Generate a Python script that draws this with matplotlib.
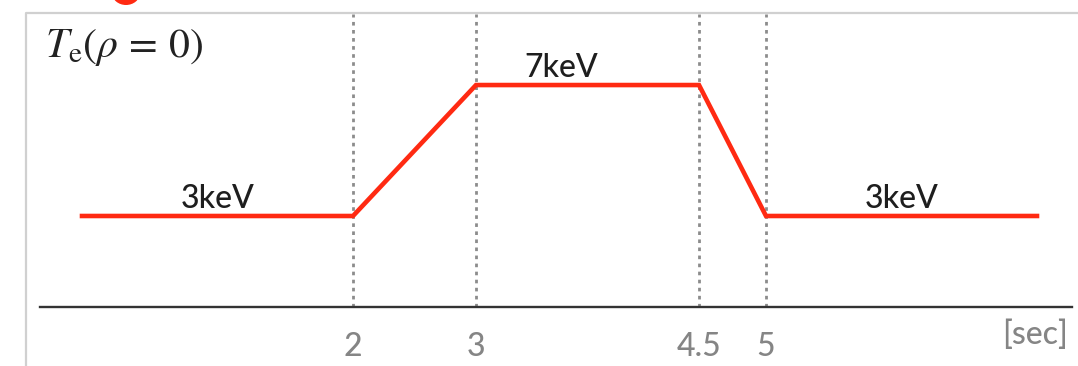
import matplotlib.pyplot as plt
import numpy as np
from matplotlib.lines import Line2D
from matplotlib.patches import Ellipse

# electron temperature waveform at the plasma core
times = [0, 2, 3, 4.5, 5, 7]
te_kev = [3, 3, 7, 7, 3, 3]
tick_times = [2, 3, 4.5, 5]
tick_labels = ['2', '3', '4.5', '5']
label_times = [1, 3.57, 6]
label_values = [3, 7, 3]

plt.rcParams['font.family'] = ['Lato', 'DejaVu Sans']
plt.rcParams['mathtext.fontset'] = 'stix'

# schematic time axis: each phase gets its own width on the page
knot_t = np.array([-1, 0, 2, 3, 4.5, 5, 7, 8])
knot_u = np.array([-53.5, 82, 353, 476, 699, 766, 1037, 1172.5])

def forward(t):
    return np.interp(t, knot_t, knot_u)

def inverse(u):
    return np.interp(u, knot_u, knot_t)

W, H = 1078, 366
fig = plt.figure(figsize=(W / 100, H / 100), dpi=100)
ax = fig.add_axes([40 / W, 1 - 307 / H, 1032 / W, 293 / H])
ax.set_xscale('function', functions=(forward, inverse))
ax.set_xlim(inverse(40), inverse(1072))
ax.set_ylim(0.22, 9.17)

red = '#ff2a12'
ax.plot(times, te_kev, color=red, lw=3.3, solid_joinstyle='miter', zorder=3)

for t in tick_times:
    ln = ax.axvline(t, color='#8c8c8c', lw=2.0, zorder=1)
    ln.set_dashes((1.3, 1.6))

for t, v in zip(label_times, label_values):
    ax.annotate(f'{v}keV', (t, v), xytext=(0, 6), textcoords='offset points',
                ha='center', va='baseline', fontsize=23, fontweight='medium',
                color='#1e1e1e')

ax.set_xticks(tick_times)
ax.set_xticklabels(tick_labels, fontweight='medium')
ax.tick_params(axis='x', length=0, pad=18, labelsize=23, labelcolor='#858585')
ax.set_yticks([])
for side in ['top', 'right', 'left']:
    ax.spines[side].set_visible(False)
ax.spines['bottom'].set_color('#333333')
ax.spines['bottom'].set_linewidth(1.7)

fig.text(1068 / W, 1 - 335 / H, '[sec]', ha='right', va='center',
         fontsize=23, fontweight='medium', color='#858585')
fig.text(45 / W, 1 - 47 / H, r'$T_{\rm e}(\rho\,=\,0)$', ha='left', va='center',
         fontsize=30, color='#222222')

# panel frame and marker peeking in from above
fig.add_artist(Line2D([26 / W, 26 / W, 1.0], [0.0, 1 - 13 / H, 1 - 13 / H],
                      transform=fig.transFigure, color='#d0d0d0', lw=1.6))
fig.add_artist(Ellipse((126 / W, 1 + 7 / H), 28 / W, 24 / H,
                       transform=fig.transFigure, color=red, lw=0))

fig.savefig('out.png', dpi=100)
